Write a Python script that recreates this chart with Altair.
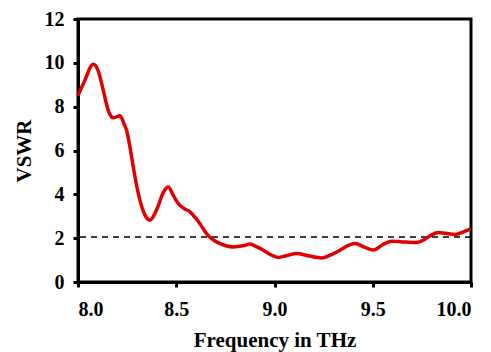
import altair as alt
import pandas as pd

freq = [8.00, 8.03, 8.078, 8.10, 8.129, 8.155, 8.18, 8.214, 8.235, 8.248, 8.273, 8.29,
        8.307, 8.341, 8.366, 8.39, 8.409, 8.435, 8.46, 8.485, 8.51, 8.54, 8.57, 8.60,
        8.62, 8.655, 8.68, 8.72, 8.79, 8.84, 8.875, 8.91, 8.943, 8.98, 9.02, 9.06,
        9.113, 9.17, 9.24, 9.29, 9.333, 9.37, 9.41, 9.46, 9.503, 9.55, 9.596, 9.65,
        9.723, 9.76, 9.79, 9.834, 9.87, 9.92, 9.96, 10.0]
vswr = [8.5, 9.1, 9.94, 9.7, 8.73, 7.8, 7.49, 7.59, 7.2, 6.9, 5.7, 4.8,
        4.03, 3.05, 2.82, 3.1, 3.5, 4.1, 4.33, 3.95, 3.58, 3.35, 3.2, 2.9,
        2.67, 2.2, 1.98, 1.76, 1.6, 1.65, 1.73, 1.6, 1.45, 1.25, 1.12, 1.2,
        1.3, 1.2, 1.1, 1.25, 1.45, 1.65, 1.76, 1.58, 1.46, 1.7, 1.86, 1.83,
        1.8, 1.92, 2.1, 2.26, 2.22, 2.17, 2.28, 2.42]
threshold = [2.05]
x_ticks = [8.0, 8.5, 9.0, 9.5, 10.0]
y_ticks = [0, 2, 4, 6, 8, 10, 12]

df = pd.DataFrame({"f": freq, "v": vswr})
ref = pd.DataFrame({"y": threshold})

FONT = "Liberation Serif"

xscale = alt.Scale(domain=[8.0, 10.0], nice=False)
yscale = alt.Scale(domain=[0, 12], nice=False)

line = alt.Chart(df).mark_line(color="#e00000", strokeWidth=3.5, interpolate="monotone").encode(
    x=alt.X("f:Q", scale=xscale,
            axis=alt.Axis(title="Frequency in THz", values=x_ticks, format=".1f",
                          titlePadding=10, labelPadding=12)),
    y=alt.Y("v:Q", scale=yscale,
            axis=alt.Axis(title="VSWR", values=y_ticks, format="d",
                          titlePadding=10, labelPadding=9)),
)

rule = alt.Chart(ref).mark_rule(color="black", strokeWidth=1.5, strokeDash=[6, 5]).encode(
    y=alt.Y("y:Q", scale=yscale)
)

chart = (rule + line).properties(
    width=393, height=263,
    autosize=alt.AutoSizeParams(type="none"),
    padding={"left": 78, "top": 19, "right": 20, "bottom": 70},
).configure(
    font=FONT
).configure_view(
    stroke="black", strokeWidth=3
).configure_axis(
    grid=False,
    domainColor="black", domainWidth=3,
    tickColor="black", tickWidth=3, tickSize=5,
    labelFont=FONT, labelFontSize=20, labelFontWeight="bold", labelColor="black",
    titleFont=FONT, titleFontSize=21, titleFontWeight="bold", titleColor="black",
)

chart.save("out.html", embed_options={"renderer": "svg", "actions": False})
